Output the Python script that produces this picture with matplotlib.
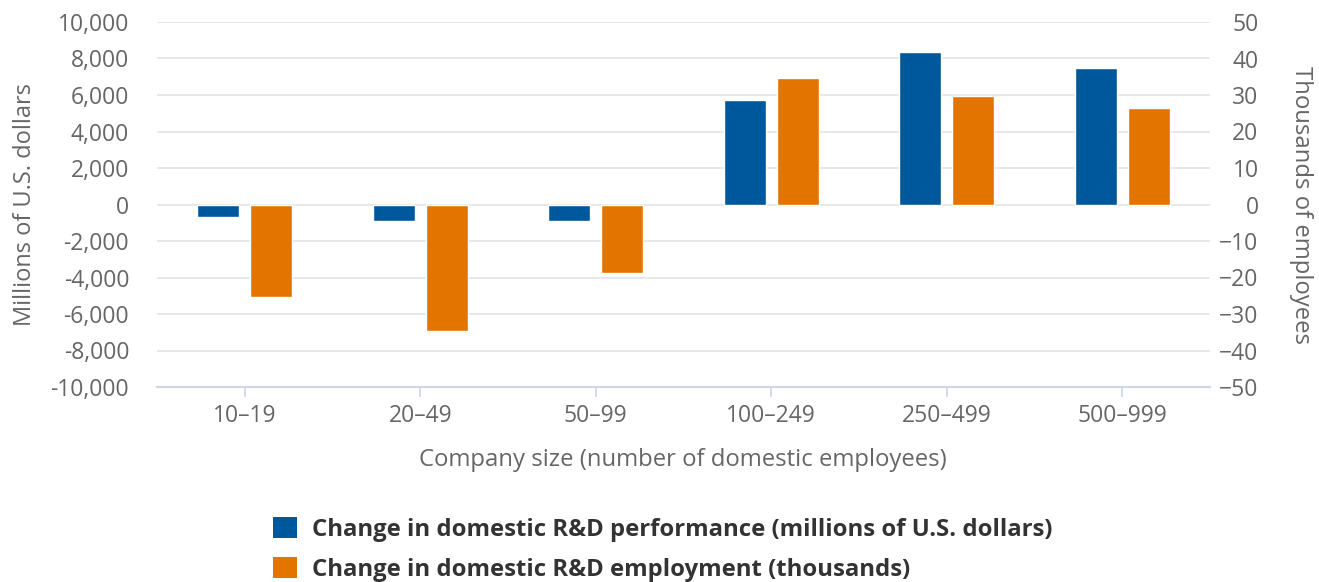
import matplotlib.pyplot as plt
import numpy as np
from matplotlib.patches import Patch

plt.rcParams["font.family"] = ["Open Sans", "DejaVu Sans"]

CATEGORIES = ["10–19", "20–49", "50–99", "100–249", "250–499", "500–999"]
RD_PERFORMANCE = [-710, -930, -930, 5750, 8350, 7480]  # millions of U.S. dollars
RD_EMPLOYMENT = [-25.4, -34.6, -18.9, 34.7, 29.8, 26.5]  # thousands
SERIES_LABELS = [
    "Change in domestic R&D performance (millions of U.S. dollars)",
    "Change in domestic R&D employment (thousands)",
]

BLUE = "#00589c"
ORANGE = "#e37400"
TEXT = "#666666"
W, H = 1319, 582


def main() -> None:
    fig = plt.figure(figsize=(W / 100, H / 100), dpi=100)
    ax = fig.add_axes([157 / W, 1 - 387 / H, (1210 - 157) / W, (387 - 22) / H])
    ax2 = ax.twinx()

    x = np.arange(len(CATEGORIES))
    width = 0.24
    ax.bar(x - 0.15, RD_PERFORMANCE, width, color=BLUE, edgecolor="white", linewidth=1, zorder=3)
    ax2.bar(x + 0.15, RD_EMPLOYMENT, width, color=ORANGE, edgecolor="white", linewidth=1, zorder=3)

    ax.set_xlim(-0.5, len(CATEGORIES) - 0.5)
    ax.set_ylim(-10000, 10000)
    ax2.set_ylim(-50, 50)
    ax.set_yticks(np.arange(-10000, 10001, 2000))
    ax2.set_yticks(np.arange(-50, 51, 10))
    ax.yaxis.set_major_formatter(plt.FuncFormatter(lambda v, _: f"{int(v):,}"))

    ax.grid(axis="y", color="#e6e6e6", linewidth=1.3, zorder=0)
    ax.set_axisbelow(True)
    for a in (ax, ax2):
        for side in ("top", "left", "right"):
            a.spines[side].set_visible(False)
    ax2.spines["bottom"].set_visible(False)
    ax.spines["bottom"].set_color("#ccd6eb")
    ax.spines["bottom"].set_linewidth(1.5)

    ax.set_xticks(x)
    ax.set_xticklabels(CATEGORIES)
    ax.tick_params(axis="x", length=7.5, width=1.2, color="#ccd6eb", labelcolor=TEXT,
                   labelsize=16.5, pad=5)
    ax.tick_params(axis="y", length=0, labelcolor=TEXT, labelsize=16.5, pad=20)
    ax2.tick_params(axis="y", length=0, labelcolor=TEXT, labelsize=16.5, pad=35)
    for label in ax2.get_yticklabels():
        label.set_horizontalalignment("right")

    fig.text(25 / W, 1 - 204 / H, "Millions of U.S. dollars", rotation=90,
             ha="center", va="center", fontsize=17, color=TEXT)
    fig.text(1301 / W, 1 - 205 / H, "Thousands of employees", rotation=270,
             ha="center", va="center", fontsize=17.2, color=TEXT)
    fig.text(683 / W, 1 - 460 / H, "Company size (number of domestic employees)",
             ha="center", va="center", fontsize=17.2, color=TEXT)

    handles = [Patch(facecolor=BLUE), Patch(facecolor=ORANGE)]
    fig.legend(
        handles,
        SERIES_LABELS,
        loc="upper left",
        bbox_to_anchor=(273 / W, 1 - 517 / H),
        frameon=False,
        prop={"weight": "bold", "size": 17.2},
        labelcolor="#333333",
        handlelength=1.0,
        handleheight=1.0,
        handletextpad=0.62,
        labelspacing=0.62,
        borderpad=0,
        borderaxespad=0,
    )

    fig.savefig("out.png", dpi=100)
    plt.close(fig)


if __name__ == "__main__":
    main()
